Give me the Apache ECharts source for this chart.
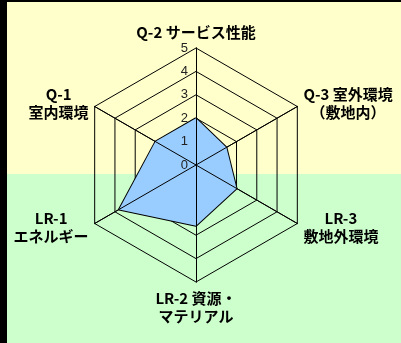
<!DOCTYPE html>
<html>
<head>
<meta charset="utf-8">
<script src="https://cdn.jsdelivr.net/npm/echarts@6/dist/echarts.min.js"></script>
<style>
    html, body { margin: 0; padding: 0; background: #000; overflow: hidden; }
    .frame {
        position: absolute; left: 7px; top: 2px; width: 394px; height: 341px;
        background: linear-gradient(#ffffcc 0, #ffffcc 172px, #ccffcc 172px);
    }
    .chart { position: absolute; left: 0; top: 0; width: 401px; height: 343px; }
</style>
</head>
<body>
<div class="frame"></div>
<div id="chart" class="chart"></div>
<script>
// radar goes counter-clockwise from the top
const categories = [
    'Q-2 サービス性能',
    'Q-1\n室内環境',
    'LR-1\nエネルギー',
    'LR-2 資源・\nマテリアル',
    'LR-3\n敷地外環境',
    'Q-3 室外環境\n（敷地内）',
];
const scores = [2.0, 2.0, 3.8, 2.6, 2.0, 1.5];
const scaleMax = 5;
const tickStep = 1;

const fontJP = '"Noto Sans CJK JP", "Noto Sans", sans-serif';
const radarCenter = [196, 165];
const radarRadius = 117;

const chart = echarts.init(document.getElementById('chart'), null, { renderer: 'canvas' });

const indicators = categories.map((name) => ({ name, min: 0, max: scaleMax }));

// same axes again, but only the top one gets the 0..5 labels
const overlayIndicators = categories.map((name, i) => ({
    name,
    min: 0,
    max: scaleMax,
    axisLabel: i === 0
        ? { show: true, color: '#222', fontSize: 13, fontFamily: 'Liberation Sans, sans-serif', margin: 8 }
        : { show: false },
}));

chart.setOption({
    animation: false,
    radar: [
        {
            // rings + names, under the filled area
            z: 1,
            center: radarCenter,
            radius: radarRadius,
            startAngle: 90,
            shape: 'polygon',
            splitNumber: scaleMax / tickStep,
            indicator: indicators,
            nameGap: 7,
            axisName: {
                color: '#000',
                fontWeight: 'bold',
                fontSize: 15,
                fontFamily: fontJP,
                formatter: (value) => value.split('\n').map((s) => '{n|' + s + '}').join('\n'),
                rich: {
                    n: { align: 'center', color: '#000', fontWeight: 'bold', fontSize: 15, fontFamily: fontJP, lineHeight: 18 },
                },
            },
            axisLine: { lineStyle: { color: '#000', width: 1 } },
            splitLine: { lineStyle: { color: '#000', width: 1 } },
            splitArea: { show: false },
            axisTick: { show: false },
        },
        {
            // spokes + tick labels, over the filled area
            z: 3,
            silent: true,
            center: radarCenter,
            radius: radarRadius,
            startAngle: 90,
            shape: 'polygon',
            splitNumber: scaleMax / tickStep,
            indicator: overlayIndicators,
            axisName: { show: false },
            axisLine: { lineStyle: { color: '#000', width: 1 } },
            splitLine: { show: false },
            splitArea: { show: false },
            axisTick: { show: false },
        },
    ],
    series: [
        {
            type: 'radar',
            radarIndex: 0,
            symbol: 'none',
            data: [
                {
                    value: scores,
                    lineStyle: { color: '#000', width: 2 },
                    areaStyle: { color: '#99ccff', opacity: 1 },
                },
            ],
        },
    ],
});
</script>
</body>
</html>
